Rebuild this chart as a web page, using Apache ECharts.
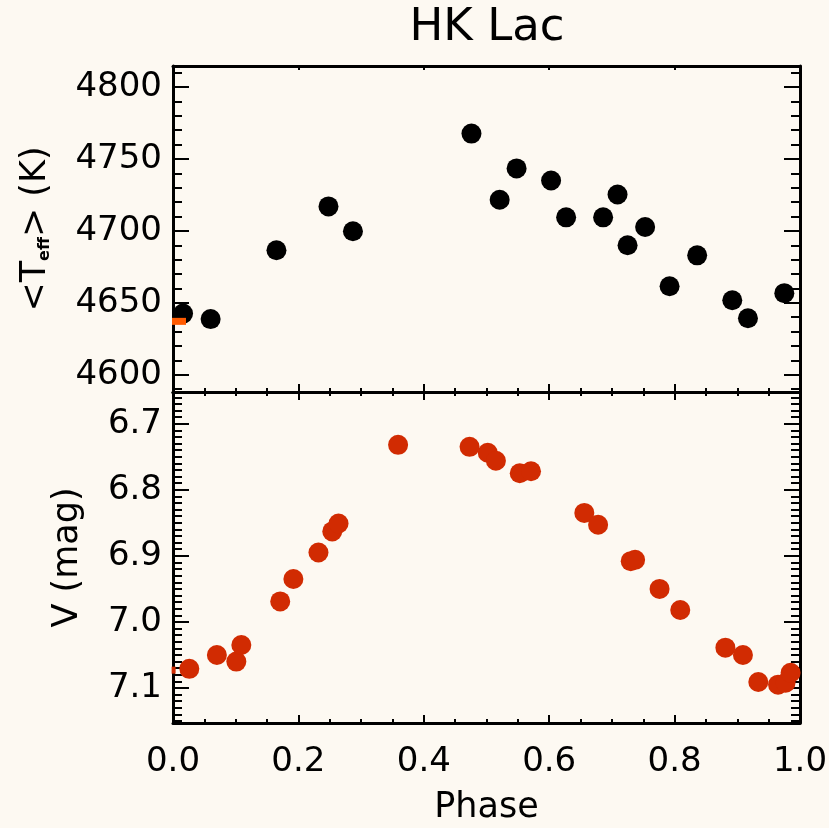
<!DOCTYPE html>
<html><head><meta charset="utf-8">
<script src="https://cdn.jsdelivr.net/npm/echarts@6/dist/echarts.min.js"></script>
<style>html,body{margin:0;padding:0;background:#fdf9f2;} #c{width:829px;height:828px;}</style>
</head><body><div id="c"></div>
<script>
// ---- text ----
const chartTitle = 'HK Lac';
const xName = 'Phase';
const teffName = '<T{sub|eff}> (K)';
const vName = 'V (mag)';

// ---- data: top panel (effective temperature) ----
const phaseTeff = [0.016, 0.060, 0.165, 0.248, 0.287, 0.476, 0.521, 0.548, 0.603, 0.627, 0.686, 0.709, 0.725, 0.753, 0.792, 0.836, 0.892, 0.917, 0.975];
const teffValues = [4642.5, 4638.7, 4686.5, 4717.0, 4699.7, 4767.6, 4721.6, 4743.4, 4735.0, 4709.4, 4709.4, 4725.3, 4690.0, 4702.7, 4661.5, 4683.0, 4651.8, 4639.3, 4656.7];
const phaseTeffMark = [0.0096];
const teffMark = [4637.1];

// ---- data: bottom panel (V magnitude) ----
const phaseV = [0.026, 0.070, 0.101, 0.109, 0.171, 0.192, 0.232, 0.254, 0.264, 0.359, 0.473, 0.502, 0.515, 0.553, 0.571, 0.656, 0.678, 0.730, 0.737, 0.776, 0.809, 0.881, 0.909, 0.9335, 0.965, 0.977, 0.985];
const vMag = [7.071, 7.050, 7.060, 7.035, 6.969, 6.935, 6.895, 6.863, 6.851, 6.732, 6.735, 6.744, 6.756, 6.775, 6.772, 6.835, 6.853, 6.908, 6.906, 6.950, 6.982, 7.039, 7.050, 7.091, 7.095, 7.092, 7.077];
const phaseVEdge = [0.001];
const vEdge = [7.073];

// ---- axes ----
const xRange = [0, 1];
const teffRange = [4588, 4814.6];
const vRange = [6.652, 7.153];
const xTicks = [0, 0.2, 0.4, 0.6, 0.8, 1.0];
const teffTicks = [4600, 4650, 4700, 4750, 4800];
const vTicks = [6.7, 6.8, 6.9, 7.0, 7.1];

const xMinor = []; for (let i = 0; i <= 20; i++) xMinor.push(Math.round(i * 5) / 100);
const teffMinor = []; for (let v = 4590; v <= 4810; v += 10) teffMinor.push(v);
const vMinor = []; for (let i = 666; i <= 715; i++) vMinor.push(i / 100);

const FONT = 'DejaVu Sans';
const BLACK = '#000000';

function xAx(grid, pos, ticks, len, line, label) {
  return {
    type: 'value', gridIndex: grid, position: pos, min: xRange[0], max: xRange[1],
    axisLine: { show: line, onZero: false, lineStyle: { color: BLACK, width: 3 } },
    axisTick: { show: true, inside: true, length: len, customValues: ticks, lineStyle: { color: BLACK, width: 2 } },
    axisLabel: label ? { show: true, customValues: xTicks, margin: 22, formatter: v => v.toFixed(1), fontFamily: FONT, fontSize: 34, color: BLACK } : { show: false },
    splitLine: { show: false }
  };
}
function yAx(grid, pos, range, inverse, ticks, len, line, label) {
  return {
    type: 'value', gridIndex: grid, position: pos, min: range[0], max: range[1], inverse: inverse,
    axisLine: { show: line, onZero: false, lineStyle: { color: BLACK, width: 3 } },
    axisTick: { show: true, inside: true, length: len, customValues: ticks, lineStyle: { color: BLACK, width: 2 } },
    axisLabel: label ? Object.assign({ show: true, margin: 11, fontFamily: FONT, fontSize: 34, color: BLACK }, label) : { show: false },
    splitLine: { show: false }
  };
}

const xAxes = [
  xAx(0, 'bottom', xTicks, 8, true, false),   // 0 top panel bottom major
  xAx(0, 'bottom', xMinor, 4, false, false),  // 1
  xAx(0, 'top', xTicks, 4, true, false),      // 2
  Object.assign(xAx(1, 'bottom', xTicks, 8, true, true), { name: xName, nameLocation: 'middle', nameGap: 67, nameTextStyle: { fontFamily: FONT, fontSize: 35, color: BLACK } }), // 3
  xAx(1, 'bottom', xMinor, 4, false, false),  // 4
  xAx(1, 'top', xTicks, 8, true, false),      // 5
  xAx(1, 'top', xMinor, 4, false, false)      // 6
];
const yAxes = [
  Object.assign(yAx(0, 'left', teffRange, false, teffTicks, 16, true, { customValues: teffTicks, formatter: v => String(Math.round(v)) }), {
    name: teffName, nameLocation: 'middle', nameRotate: 90, nameGap: 120,
    nameTextStyle: { fontFamily: FONT, fontSize: 35, color: BLACK, rich: { sub: { fontFamily: FONT, fontSize: 16, fontWeight: 'bold', color: BLACK, verticalAlign: 'bottom' } } }
  }), // 0
  yAx(0, 'left', teffRange, false, teffMinor, 9, false, null),   // 1
  yAx(0, 'right', teffRange, false, teffTicks, 16, true, null),  // 2
  yAx(0, 'right', teffRange, false, teffMinor, 9, false, null),  // 3
  Object.assign(yAx(1, 'left', vRange, true, vTicks, 16, true, { customValues: vTicks, formatter: v => v.toFixed(1) }), {
    name: vName, nameLocation: 'middle', nameRotate: 90, nameGap: 88,
    nameTextStyle: { fontFamily: FONT, fontSize: 35, color: BLACK }
  }), // 4
  yAx(1, 'left', vRange, true, vMinor, 9, false, null),    // 5
  yAx(1, 'right', vRange, true, vTicks, 16, true, null),   // 6
  yAx(1, 'right', vRange, true, vMinor, 9, false, null)    // 7
];

const zip = (a, b) => a.map((v, i) => [v, b[i]]);

const chart = echarts.init(document.getElementById('c'), null, { renderer: 'canvas' });
chart.setOption({
  backgroundColor: '#fdf9f2',
  animation: false,
  title: { text: chartTitle, left: 487, textAlign: 'center', top: 6, padding: 0, textStyle: { fontFamily: FONT, fontSize: 45, fontWeight: 'normal', color: BLACK } },
  grid: [
    { left: 173, right: 29, top: 66, height: 326, outerBoundsMode: 'none' },
    { left: 173, right: 29, top: 392, height: 331, outerBoundsMode: 'none' }
  ],
  xAxis: xAxes,
  yAxis: yAxes,
  series: [
    { type: 'scatter', xAxisIndex: 0, yAxisIndex: 0, data: zip(phaseTeff, teffValues), symbol: 'circle', symbolSize: 20, itemStyle: { color: BLACK, opacity: 1 }, z: 3 },
    { type: 'scatter', xAxisIndex: 0, yAxisIndex: 0, data: zip(phaseTeffMark, teffMark), symbol: 'rect', symbolSize: [14, 7], itemStyle: { color: '#ff5a00', opacity: 1 }, z: 4 },
    { type: 'scatter', xAxisIndex: 3, yAxisIndex: 4, data: zip(phaseV, vMag), symbol: 'circle', symbolSize: 20, itemStyle: { color: '#d12b02', opacity: 1 }, z: 3 },
    { type: 'scatter', xAxisIndex: 3, yAxisIndex: 4, data: zip(phaseVEdge, vEdge), symbol: 'rect', symbolSize: [4, 7], itemStyle: { color: '#d12b02', opacity: 1 }, z: 4 }
  ]
});
</script></body></html>
